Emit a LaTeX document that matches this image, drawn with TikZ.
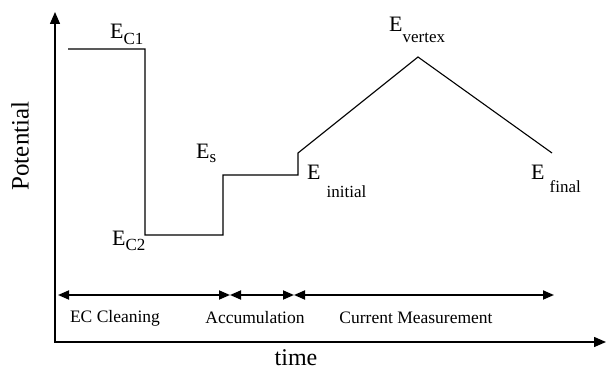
\documentclass[tikz,border=0pt]{standalone}
\usepackage{fontspec}
\setmainfont{Liberation Serif}
\usetikzlibrary{arrows.meta}
\newcommand{\bigE}{\fontsize{22}{22}\selectfont E}
\newcommand{\subt}[1]{{\fontsize{17}{17}\selectfont #1}}
\begin{document}
\begin{tikzpicture}[x=1pt,y=-1pt,
  axis/.style={line width=1.4pt,-{Triangle[length=12pt,width=10pt]}},
  trace/.style={line width=1.1pt,line join=miter},
  span/.style={line width=1.8pt,{Triangle[length=11pt,width=9pt]}-{Triangle[length=11pt,width=9pt]}},
  lbl/.style={inner sep=0pt,anchor=base west},
  phase/.style={inner sep=0pt,font=\fontsize{17.5}{17.5}\selectfont}]
\useasboundingbox (0,0) rectangle (606,371);
% axes
\coordinate (O) at (55,342);
\coordinate (Ytop) at (55,12);
\coordinate (Xend) at (606,342);
\draw[axis] (O) -- (Ytop);
\draw[axis] ([xshift=-0.7pt]O) -- (Xend);
% trace
\coordinate (p1) at (68,49);
\coordinate (p2) at (145,49);
\coordinate (p3) at (145,235);
\coordinate (p4) at (223,235);
\coordinate (p5) at (223,175);
\coordinate (p6) at (298,175);
\coordinate (p7) at (298,153);
\coordinate (pv) at (418,57);
\coordinate (pf) at (552,153);
\draw[trace] (p1) -- (p2) -- (p3) -- (p4) -- (p5) -- (p6) -- (p7) -- (pv) -- (pf);
% labels
\node[lbl] (ec1) at (110,39) {\bigE\raisebox{-6pt}{\subt{C1}}};
\node[lbl] (ec2) at (112,246) {\bigE\raisebox{-5pt}{\subt{C2}}};
\node[lbl] (es) at (196,159) {\bigE\raisebox{-4pt}{\subt{s}}};
\node[lbl] (ei) at (307,180) {\bigE\hspace{6pt}\raisebox{-18pt}{\subt{initial}}};
\node[lbl] (ev) at (389,32) {\bigE\raisebox{-11pt}{\subt{vertex}}};
\node[lbl] (efin) at (531,180) {\bigE\hspace{5pt}\raisebox{-13pt}{\subt{final}}};
% phase spans
\coordinate (s0) at (58,295);
\coordinate (s1) at (230,295);
\coordinate (s2) at (294,295);
\coordinate (s3) at (554,295);
\draw[span] (s0) -- (s1);
\draw[span] (s1) -- (s2);
\draw[span] (s2) -- (s3);
\node[phase] (c1) at (115,318) {EC Cleaning};
\node[phase] (c2) at (255,318) {Accumulation};
\node[phase] (c3) at (416,318) {Current Measurement};
% axis titles
\node[inner sep=0pt,rotate=90,font=\fontsize{25}{25}\selectfont] (yl) at (20,146) {Potential};
\node[inner sep=0pt,font=\fontsize{24}{24}\selectfont] (xl) at (296,358) {time};
\end{tikzpicture}
\end{document}
